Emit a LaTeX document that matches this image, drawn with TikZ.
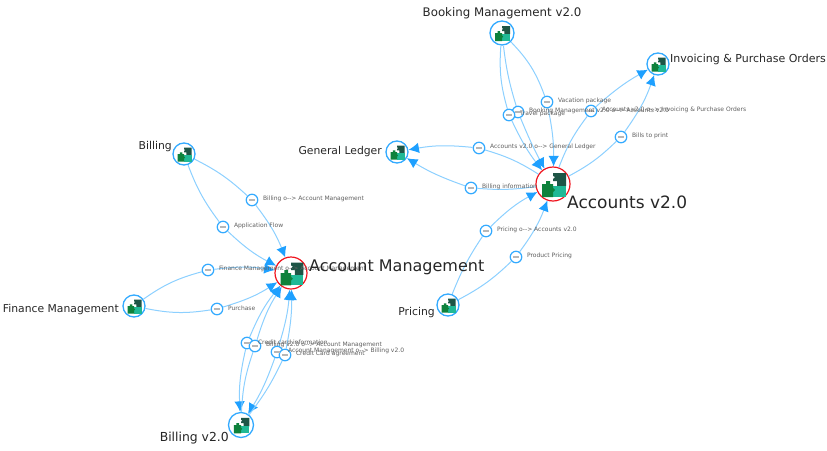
\documentclass[tikz,border=0pt]{standalone}
\usepackage{fontspec}
\setmainfont{DejaVu Sans}
\usetikzlibrary{positioning,arrows.meta}

\definecolor{ringblue}{RGB}{51,170,255}
\definecolor{edgeblue}{RGB}{140,208,255}
\definecolor{tipblue}{RGB}{30,160,255}
\definecolor{ringred}{RGB}{240,20,30}
\definecolor{textgray}{RGB}{95,95,95}
\definecolor{piecegreen}{RGB}{14,130,60}
\definecolor{pieceteal}{RGB}{32,185,150}
\definecolor{piecedark}{RGB}{30,85,70}

\newcommand{\linkarrow}{o{-}{-}>}

\tikzset{
    appnode/.style={circle, draw=ringblue, fill=white, line width=1.3pt, minimum size=22pt, inner sep=0pt},
    mainnode/.style={circle, draw=ringred, fill=white, line width=1.2pt, inner sep=0pt},
    midnode/.style={circle, draw=ringblue, fill=white, line width=1.2pt, minimum size=11.5pt, inner sep=0pt},
    midtext/.style={font=\fontsize{6}{7}\selectfont, text=textgray, inner sep=0pt, yshift=1pt},
    nametext/.style={font=\fontsize{10.8}{12}\selectfont, text=black!85, inner sep=0pt},
    bigtext/.style={font=\fontsize{16}{18}\selectfont, text=black!85, inner sep=0pt},
    flow/.style={draw=edgeblue, line width=1pt},
    flowtip/.style={flow, -{Latex[length=10.5pt,width=10.5pt,color=tipblue]}},
    pics/puzzle/.style={code={
        \fill[piecedark] (0,-11) -- (13,-11) -- (13,2) -- (4,2) -- (4,-3) -- (0,-3) -- (0,-5) -- (2,-7) -- (0,-8) -- cycle;
        \fill[pieceteal] (0,2) -- (13,2) -- (13,13) -- (0,13) -- cycle;
        \fill[piecegreen] (-11,0) -- (-7,0) -- (-7,-3) -- (-3,-3) -- (-3,0) -- (0,0) -- (0,4) -- (2,6) -- (0,8) -- (0,13) -- (-11,13) -- cycle;
    }}
}

\begin{document}
\begin{tikzpicture}[x=1pt,y=-1pt]
    \useasboundingbox (0,0) rectangle (827,450);

    % Applications
    \node[appnode, minimum size=24pt] (bookingv) at (502,33) {};
    \node[appnode] (invoicing) at (658,64) {};
    \node[appnode] (ledger) at (397,152) {};
    \node[mainnode, minimum size=34pt] (accounts) at (553,184) {};
    \node[appnode] (billing) at (184,154) {};
    \node[mainnode, minimum size=32pt] (management) at (291,273) {};
    \node[appnode] (finance) at (134,306) {};
    \node[appnode] (pricing) at (448,305) {};
    \node[appnode, minimum size=25pt] (billingv) at (241,425) {};

    % Puzzle icons
    \foreach \appname/\iconscale in {bookingv/0.62, invoicing/0.58, ledger/0.58, accounts/1, billing/0.58, management/0.95, finance/0.58, pricing/0.58, billingv/0.65}
        \pic[scale=\iconscale] at (\appname) {puzzle};

    % Names
    \node[nametext, font=\fontsize{11.8}{13}\selectfont] (bookingname) at (502,13) {Booking Management v2.0};
    \node[nametext, font=\fontsize{11}{12}\selectfont, anchor=west] (invoicingname) at (670,59) {Invoicing \& Purchase Orders};
    \node[nametext, anchor=east] (ledgername) at (382,152) {General Ledger};
    \node[bigtext, font=\fontsize{17}{19}\selectfont, anchor=west] (accountsname) at (567,202) {Accounts v2.0};
    \node[nametext, anchor=east] (billingname) at (172,147) {Billing};
    \node[nametext, anchor=east] (financename) at (119,310) {Finance Management};
    \node[nametext, anchor=east] (pricingname) at (435,313) {Pricing};
    \node[nametext, font=\fontsize{12.4}{14}\selectfont, anchor=east] (billingvname) at (229,438) {Billing v2.0};

    % Middle circles, top right
    \node[midnode] (vacation) at (547,102) {};
    \node[midnode] (bookinglink) at (518,112) {};
    \node[midnode] (travel) at (509,115) {};
    \node[midnode] (invoicelink) at (591,111) {};
    \node[midnode] (bills) at (621,137) {};
    \node[midnode] (ledgerlink) at (479,148) {};
    \node[midnode] (billinginfo) at (471,188) {};
    \node[midnode] (pricinglink) at (486,231) {};
    \node[midnode] (product) at (516,257) {};
    % Middle circles, left
    \node[midnode] (billinglink) at (252,200) {};
    \node[midnode] (appflow) at (223,227) {};
    \node[midnode] (financelink) at (208,270) {};
    \node[midnode] (purchase) at (217,309) {};
    \node[midnode] (creditinfo) at (247,343) {};
    \node[midnode] (billingvlink) at (255,346) {};
    \node[midnode] (managementlink) at (277,352) {};
    \node[midnode] (creditcard) at (285,355) {};

    % Connectors
    \draw[flow] (bookingv) to[bend left=12] (vacation);
    \draw[flowtip] (vacation) to[bend left=6] (accounts);
    \draw[flow] (bookingv) to[bend right=5] (bookinglink);
    \draw[flowtip] (bookinglink) to[bend right=3] (accounts);
    \draw[flow] (bookingv) to[bend right=10] (travel);
    \draw[flowtip] (travel) to[bend right=6] (accounts);
    \draw[flow] (accounts) to[bend left=8] (invoicelink);
    \draw[flowtip] (invoicelink) to[bend left=6] (invoicing);
    \draw[flow] (accounts) to[bend right=8] (bills);
    \draw[flowtip] (bills) to[bend right=8] (invoicing);
    \draw[flow] (accounts) to[bend right=8] (ledgerlink);
    \draw[flowtip] (ledgerlink) to[bend right=8] (ledger);
    \draw[flow] (accounts) to[bend left=6] (billinginfo);
    \draw[flowtip] (billinginfo) to[bend left=6] (ledger);
    \draw[flow] (pricing) to[bend left=6] (pricinglink);
    \draw[flowtip] (pricinglink) to[bend left=8] (accounts);
    \draw[flow] (pricing) to[bend right=8] (product);
    \draw[flowtip] (product) to[bend right=8] (accounts);
    \draw[flow] (billing) to[bend left=8] (billinglink);
    \draw[flowtip] (billinglink) to[bend left=8] (management);
    \draw[flow] (billing) to[bend right=8] (appflow);
    \draw[flowtip] (appflow) to[bend right=8] (management);
    \draw[flow] (finance) to[bend left=10] (financelink);
    \draw[flowtip] (financelink) to[bend left=8] (management);
    \draw[flow] (finance) to[bend right=10] (purchase);
    \draw[flowtip] (purchase) to[bend right=8] (management);
    \draw[flowtip] (creditinfo) to[bend left=8] (management);
    \draw[flowtip] (creditinfo) to[bend right=8] (billingv);
    \draw[flowtip] (billingvlink) to[bend left=8] (management);
    \draw[flow] (billingvlink) to[bend right=8] (billingv);
    \draw[flowtip] (managementlink) to[bend right=6] (management);
    \draw[flowtip] (managementlink) to[bend left=6] (billingv);
    \draw[flowtip] (creditcard) to[bend right=6] (management);
    \draw[flow] (creditcard) to[bend left=6] (billingv);

    % Small gray bar in each middle circle
    \foreach \midname in {vacation, bookinglink, travel, invoicelink, bills, ledgerlink, billinginfo, pricinglink, product, billinglink, appflow, financelink, purchase, creditinfo, billingvlink, managementlink, creditcard}
        \fill[textgray!45] ([xshift=-3pt,yshift=-0.8pt]\midname.center) rectangle ([xshift=3pt,yshift=0.8pt]\midname.center);

    % Connector labels
    \node[midtext, right=4.5pt of vacation] (vacationtext) {Vacation package};
    \node[midtext, right=4.5pt of bookinglink] (bookingtext) {Booking Management v2.0 \linkarrow{} Accounts v2.0};
    \node[midtext, right=4.5pt of travel] (traveltext) {Travel package};
    \node[midtext, right=4.5pt of invoicelink] (invoicetext) {Accounts v2.0 \linkarrow{} Invoicing \& Purchase Orders};
    \node[midtext, right=4.5pt of bills] (billstext) {Bills to print};
    \node[midtext, right=4.5pt of ledgerlink] (ledgertext) {Accounts v2.0 \linkarrow{} General Ledger};
    \node[midtext, right=4.5pt of billinginfo] (billinginfotext) {Billing information};
    \node[midtext, right=4.5pt of pricinglink] (pricingtext) {Pricing \linkarrow{} Accounts v2.0};
    \node[midtext, right=4.5pt of product] (producttext) {Product Pricing};
    \node[midtext, right=4.5pt of billinglink] (billingtext) {Billing \linkarrow{} Account Management};
    \node[midtext, right=4.5pt of appflow] (appflowtext) {Application Flow};
    \node[midtext, right=4.5pt of financelink] (financetext) {Finance Management \linkarrow{} Account Management};
    \node[midtext, right=4.5pt of purchase] (purchasetext) {Purchase};
    \node[midtext, right=4.5pt of creditinfo] (creditinfotext) {Credit card information};
    \node[midtext, right=4.5pt of billingvlink] (billingvtext) {Billing v2.0 \linkarrow{} Account Management};
    \node[midtext, right=4.5pt of managementlink] (managementtext) {Account Management \linkarrow{} Billing v2.0};
    \node[midtext, right=4.5pt of creditcard] (creditcardtext) {Credit Card agreement};

    \node[bigtext, anchor=west] (managementname) at (309,267) {Account Management};
\end{tikzpicture}
\end{document}
